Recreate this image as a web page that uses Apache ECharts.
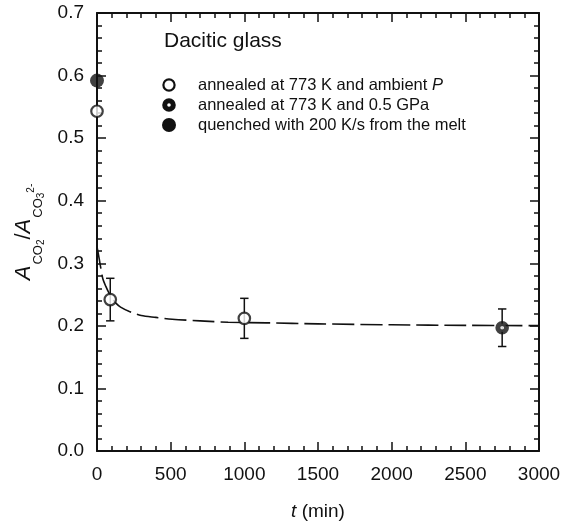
<!DOCTYPE html>
<html><head><meta charset="utf-8">
<script src="https://cdn.jsdelivr.net/npm/echarts@6/dist/echarts.min.js"></script>
<style>html,body{margin:0;padding:0;background:#fff}#c{width:573px;height:526px}</style>
</head><body><div id="c"></div>
<script>
// ---- data ----
const xTicks = [0, 500, 1000, 1500, 2000, 2500, 3000];
const yTicks = [0.0, 0.1, 0.2, 0.3, 0.4, 0.5, 0.6, 0.7];

const ambientT = [0, 90, 1000];
const ambientV = [0.543, 0.242, 0.212];
const ambientErr = [0, 0.034, 0.032];

const gpaT = [2750];
const gpaV = [0.197];
const gpaErr = [0.030];

const quenchT = [0];
const quenchV = [0.592];

const fitT = [0, 10, 20, 30, 40, 60, 80, 100, 130, 160, 220, 300, 400, 510, 700, 890, 1150, 1500, 2000, 2500, 3000];
const fitV = [0.326, 0.314, 0.300, 0.287, 0.275, 0.263, 0.253, 0.245, 0.236, 0.230, 0.223, 0.2165, 0.2135, 0.2105, 0.208, 0.2058, 0.2048, 0.2032, 0.2017, 0.2008, 0.2003];

const legendTitle = 'Dacitic glass';
const legendLabels = ['annealed at 773 K and ambient {i|P}', 'annealed at 773 K and 0.5 GPa', 'quenched with 200 K/s from the melt'];

// ---- chart ----
const FONT = '"Liberation Sans", Arial, sans-serif';
const INK = '#111';
const zip = (a, b, c) => a.map((v, i) => c ? [v, b[i], c[i]] : [v, b[i]]);

const axisCommon = {
  axisLine: { show: true, onZero: false, lineStyle: { color: INK, width: 2 } },
  axisTick: { show: true, inside: true, length: 9, lineStyle: { color: INK, width: 1.5 } },
  minorTick: { show: true, splitNumber: 5, length: 5, lineStyle: { color: INK, width: 1.5 } },
  splitLine: { show: false },
  minorSplitLine: { show: false }
};

const xRange = { min: xTicks[0], max: xTicks[xTicks.length - 1], interval: xTicks[1] - xTicks[0] };
const yRange = { min: yTicks[0], max: yTicks[yTicks.length - 1], interval: +(yTicks[1] - yTicks[0]).toFixed(3) };

function errItem(params, api) {
  const x = api.value(0), y = api.value(1), e = api.value(2);
  if (!e) return null;
  const t = api.coord([x, y + e]), b = api.coord([x, y - e]);
  const cw = 4.2;
  const st = { stroke: INK, lineWidth: 1.5 };
  return { type: 'group', children: [
    { type: 'line', shape: { x1: t[0], y1: t[1], x2: b[0], y2: b[1] }, style: st },
    { type: 'line', shape: { x1: t[0] - cw, y1: t[1], x2: t[0] + cw, y2: t[1] }, style: st },
    { type: 'line', shape: { x1: b[0] - cw, y1: b[1], x2: b[0] + cw, y2: b[1] }, style: st }
  ]};
}

const openStyle = { color: '#fff', borderColor: INK, borderWidth: 2.2 };
const ringStyle = { color: '#fff', borderColor: INK, borderWidth: 5 };
const fillStyle = { color: INK, borderColor: INK, borderWidth: 0 };

const legendX = 169, legendTextX = 198, legendY0 = 85, legendDy = 20;
const legendStyles = [
  { r: 5.6, style: { fill: '#fff', stroke: INK, lineWidth: 2.2 } },
  { r: 4.3, style: { fill: '#fff', stroke: INK, lineWidth: 5 } },
  { r: 7, style: { fill: INK, stroke: INK, lineWidth: 0 } }
];

const graphic = [
  { type: 'text', left: 164, top: 31, style: { text: legendTitle, font: '21px ' + FONT, fill: INK } }
];
legendLabels.forEach((lab, i) => {
  const cy = legendY0 + i * legendDy;
  graphic.push({ type: 'circle', shape: { cx: legendX, cy: cy, r: legendStyles[i].r }, style: legendStyles[i].style });
  graphic.push({ type: 'text', x: legendTextX, y: cy, style: {
    text: lab, fontSize: 16.5, fontFamily: FONT, fill: INK, verticalAlign: 'middle',
    rich: { i: { fontStyle: 'italic', fontSize: 16.5, fontFamily: FONT, fill: INK } }
  }});
});

const option = {
  backgroundColor: '#fff',
  animation: false,
  grid: { left: 97, right: 34, top: 13, bottom: 70, containLabel: false },
  xAxis: [
    Object.assign({ type: 'value', position: 'bottom', ...xRange,
      name: '{i|t} (min)', nameLocation: 'middle', nameGap: 51,
      nameTextStyle: { fontSize: 19, fontFamily: FONT, color: INK, rich: { i: { fontStyle: 'italic', fontSize: 19, fontFamily: FONT, color: INK } } },
      axisLabel: { show: true, margin: 14, fontSize: 19, fontFamily: FONT, color: INK, formatter: v => String(v) }
    }, axisCommon),
    Object.assign({ type: 'value', position: 'top', ...xRange, axisLabel: { show: false } }, axisCommon)
  ],
  yAxis: [
    Object.assign({ type: 'value', position: 'left', ...yRange,
      name: '{a|A}{s|CO}{ss|2}{n|/}{a|A}{s|CO}{ss|3}{sp|2-}', nameLocation: 'middle', nameGap: 52,
      nameTextStyle: { fontFamily: FONT, color: INK, rich: {
        a: { fontSize: 22, lineHeight: 22, fontStyle: 'italic', verticalAlign: 'top', fontFamily: FONT, color: INK },
        n: { fontSize: 22, lineHeight: 22, verticalAlign: 'top', fontFamily: FONT, color: INK },
        s: { fontSize: 13, lineHeight: 13, verticalAlign: 'top', padding: [19, 0, 0, 1], fontFamily: FONT, color: INK },
        ss: { fontSize: 10, lineHeight: 10, verticalAlign: 'top', padding: [23.5, 0, 0, 0], fontFamily: FONT, color: INK },
        sp: { fontSize: 10, lineHeight: 10, verticalAlign: 'top', padding: [13, 0, 0, 0], fontFamily: FONT, color: INK }
      } },
      axisLabel: { show: true, margin: 13, fontSize: 19, fontFamily: FONT, color: INK, formatter: v => v.toFixed(1) }
    }, axisCommon),
    Object.assign({ type: 'value', position: 'right', ...yRange, axisLabel: { show: false } }, axisCommon)
  ],
  graphic: graphic,
  series: [
    { type: 'line', name: 'fit', data: zip(fitT, fitV), showSymbol: false, smooth: 0.3, clip: true, z: 1,
      lineStyle: { color: INK, width: 1.6, type: [22, 6] } },
    { type: 'custom', name: 'err', renderItem: errItem, data: zip(ambientT, ambientV, ambientErr).concat(zip(gpaT, gpaV, gpaErr)),
      encode: { x: 0, y: 1 }, z: 2, clip: false },
    { type: 'scatter', name: 'ambient', data: zip(ambientT, ambientV), symbol: 'circle', symbolSize: 11.5, itemStyle: openStyle, clip: false, z: 3 },
    { type: 'scatter', name: 'gpa', data: zip(gpaT, gpaV), symbol: 'circle', symbolSize: 8.6, itemStyle: ringStyle, clip: false, z: 3 },
    { type: 'scatter', name: 'quench', data: zip(quenchT, quenchV), symbol: 'circle', symbolSize: 14, itemStyle: fillStyle, clip: false, z: 3 }
  ]
};
const chart = echarts.init(document.getElementById('c'), null, { renderer: 'canvas' });
chart.setOption(option);
</script></body></html>
